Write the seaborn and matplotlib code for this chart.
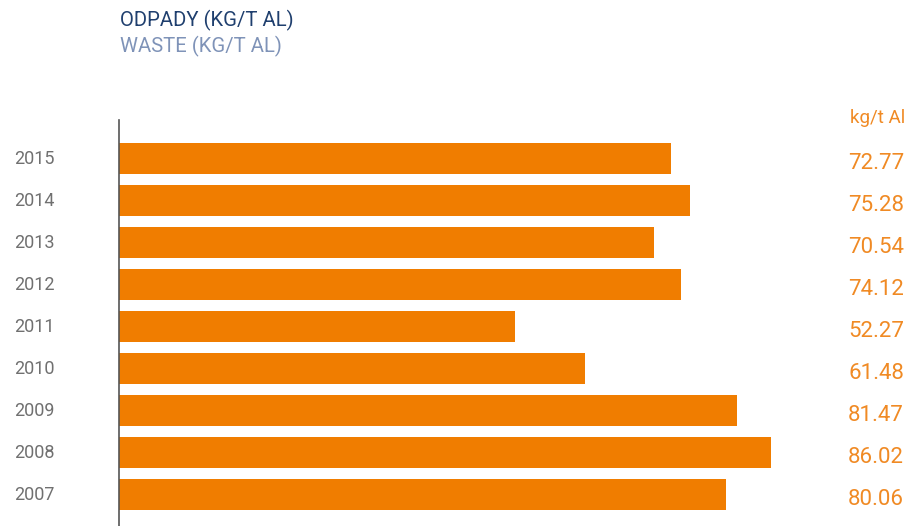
import matplotlib
matplotlib.use("Agg")
import matplotlib.pyplot as plt
import matplotlib.transforms as mtransforms
import seaborn as sns
import pandas as pd

years = ["2015", "2014", "2013", "2012", "2011", "2010", "2009", "2008", "2007"]
values = [72.77, 75.28, 70.54, 74.12, 52.27, 61.48, 81.47, 86.02, 80.06]
value_labels = ["72.77", "75.28", "70.54", "74.12", "52.27", "61.48", "81.47", "86.02", "80.06"]
title = "ODPADY (KG/T AL)"
subtitle = "WASTE (KG/T AL)"
unit = "kg/t Al"

sns.set_theme(style="white")
plt.rcParams['font.family'] = ['Roboto', 'DejaVu Sans']

df = pd.DataFrame({"year": years, "value": values})

W, H = 910, 526
fig = plt.figure(figsize=(W / 100, H / 100), dpi=100)
ax_left = 119 / W
ax_right = 905 / W
ax_top = 120
ax = fig.add_axes([ax_left, 0, ax_right - ax_left, (H - ax_top) / H])

orange = "#F07D00"
sns.barplot(data=df, x="value", y="year", orient="h", color=orange,
            saturation=1, width=0.74, ax=ax, edgecolor="none")

px_per_unit = (771 - 119) / 86.02
ax.set_xlim(0, (905 - 119) / px_per_unit)
ax.set_ylim(8 + 0.75, -0.917)

for s in ["top", "right", "bottom"]:
    ax.spines[s].set_visible(False)
ax.spines["left"].set_color("#555555")
ax.spines["left"].set_linewidth(1.2)
ax.set_xticks([])
ax.set_yticks([])
ax.set_xlabel("")
ax.set_ylabel("")

trans_fig_data = mtransforms.blended_transform_factory(fig.transFigure, ax.transData)
for i, (yr, lab) in enumerate(zip(years, value_labels)):
    fig.text(14 / W, i, yr, transform=trans_fig_data, ha="left", va="center",
             fontsize=13, color="#707070")
    fig.text(904 / W, i + 0.12, lab, transform=trans_fig_data, ha="right", va="center",
             fontsize=16, color="#F08A24")

fig.text(905 / W, 1 - 118 / H, unit, ha="right", va="center", fontsize=13.5,
         color="#F08A24")
fig.text(120 / W, 1 - 20 / H, title, ha="left", va="center", fontsize=14.6,
         color="#1F3F6E")
fig.text(120 / W, 1 - 46 / H, subtitle, ha="left", va="center", fontsize=14.6,
         color="#7F93B8")

fig.savefig("out.png", dpi=100)
